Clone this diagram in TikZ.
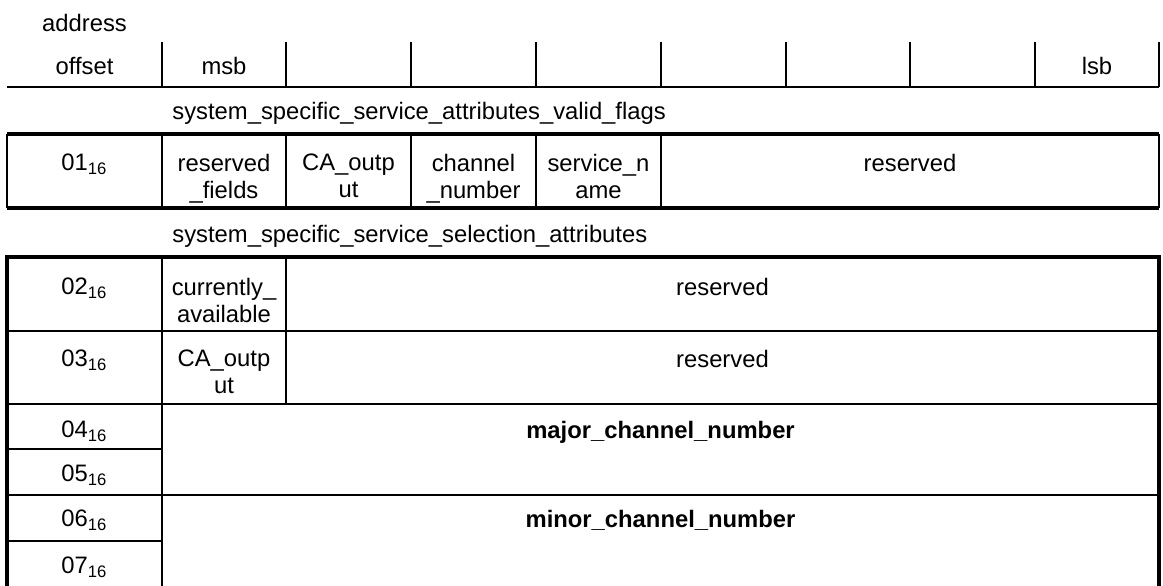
\documentclass[tikz,border=0pt]{standalone}
\usepackage{fontspec}
\setmainfont{Liberation Sans}
\usetikzlibrary{calc}

\newcommand{\hx}[1]{#1\textsubscript{16}}

\begin{document}
\begin{tikzpicture}[x=0.5pt,y=-0.5pt,
	cell/.style={anchor=north,inner sep=0pt,align=center,font=\fontsize{11.9}{13.6}\selectfont},
	caption/.style={anchor=north west,inner sep=0pt,font=\fontsize{11.9}{13.6}\selectfont},
	thin/.style={line width=1pt},
	heavy/.style={line width=2pt}]
	\useasboundingbox (0,0) rectangle (1163,585);

	% header
	\node[cell] (address) at (84.5,13.5) {address};
	\node[cell] (offset) at (84.5,56.5) {offset};
	\node[cell] (msb) at (224,56.5) {msb};
	\node[cell] (lsb) at (1097,56.5) {lsb};
	\foreach \x in {162,286,411,536,661,786,910,1035,1159}
		\draw[thin] (\x,42) -- (\x,87);
	\draw[thin] (7,87) -- (1159,87);

	% valid flags
	\node[caption] (flags) at (172,101.5) {system\_specific\_service\_attributes\_valid\_flags};
	\node[cell] (a01) at (84.5,153.5) {\hx{01}};
	\node[cell] (resfields) at (224,153.5) {reserved\\\_fields};
	\node[cell] (caout) at (348.5,153.5) {CA\_outp\\ut};
	\node[cell] (chnum) at (473.5,153.5) {channel\\\_number};
	\node[cell] (svname) at (598.5,153.5) {service\_n\\ame};
	\node[cell] (res01) at (910,153.5) {reserved};
	\draw[thin] (7,134) -- (7,208) (1159,134) -- (1159,208);
	\foreach \x in {162,286,411,536,661}
		\draw[thin] (\x,134) -- (\x,208);
	\draw[heavy] (7,134) -- (1159,134) (7,208) -- (1159,208);

	% selection attributes
	\node[caption] (selattr) at (172,224.5) {system\_specific\_service\_selection\_attributes};
	\node[cell] (a02) at (84.5,277.5) {\hx{02}};
	\node[cell] (curavail) at (224,277.5) {currently\_\\available};
	\node[cell] (res02) at (722.5,277.5) {reserved};
	\node[cell] (a03) at (84.5,349.5) {\hx{03}};
	\node[cell] (caout2) at (224,349.5) {CA\_outp\\ut};
	\node[cell] (res03) at (722.5,349.5) {reserved};
	\node[cell] (a04) at (84.5,420.5) {\hx{04}};
	\node[cell] (a05) at (84.5,464.5) {\hx{05}};
	\node[cell] (major) at (660.5,420.5) {\bfseries major\_channel\_number};
	\node[cell] (a06) at (84.5,509.5) {\hx{06}};
	\node[cell] (a07) at (84.5,556.5) {\hx{07}};
	\node[cell] (minor) at (660.5,509.5) {\bfseries minor\_channel\_number};

	\draw[thin] (7,331) -- (1159,331) (7,404) -- (1159,404) (7,495) -- (1159,495);
	\draw[thin] (7,449) -- (162,449) (7,541) -- (162,541);
	\draw[thin] (162,257) -- (162,586) (286,257) -- (286,404);
	\draw[heavy] (7,586) -- (7,257) -- (1159,257) -- (1159,586);
\end{tikzpicture}
\end{document}
